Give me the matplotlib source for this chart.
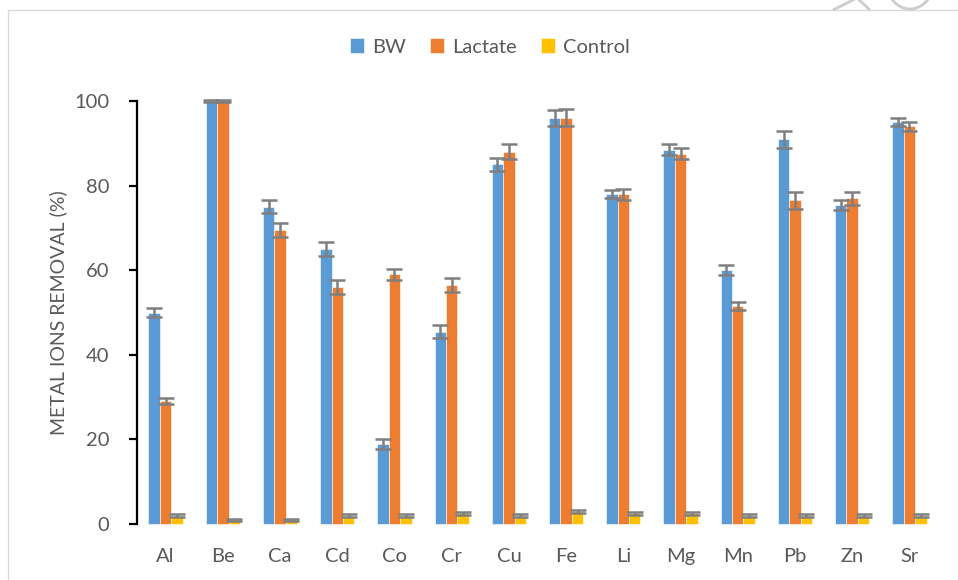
import matplotlib
matplotlib.use("Agg")
import matplotlib.pyplot as plt
import numpy as np
from matplotlib.patches import Rectangle, Arc

metals = ["Al", "Be", "Ca", "Cd", "Co", "Cr", "Cu", "Fe", "Li", "Mg", "Mn", "Pb", "Zn", "Sr"]
bw = [50, 100, 75, 65, 19, 45.5, 85, 96, 78, 88.5, 60, 91, 75.5, 95]
bw_err = [1.0, 0.3, 1.5, 1.6, 1.2, 1.6, 1.6, 1.8, 1.0, 1.3, 1.2, 2.0, 1.2, 1.0]
lactate = [29, 100, 69.5, 56, 59, 56.5, 88, 96, 78, 87.5, 51.5, 76.5, 77, 94]
lac_err = [0.7, 0.3, 1.6, 1.6, 1.3, 1.6, 1.8, 2.0, 1.3, 1.3, 1.0, 2.0, 1.6, 1.0]
control = [2, 1, 1, 2, 2, 2.5, 2, 3, 2.5, 2.5, 2, 2, 2, 2]
ctrl_err = [0.3, 0.2, 0.2, 0.3, 0.3, 0.4, 0.3, 0.4, 0.4, 0.4, 0.3, 0.3, 0.3, 0.3]

plt.rcParams['font.family'] = ['Lato', 'DejaVu Sans']

fig = plt.figure(figsize=(9.58, 5.80), dpi=100)

# background overlay in pixel coordinates (frame + faint watermark fragment)
bg = fig.add_axes([0, 0, 1, 1], zorder=-1)
bg.set_xlim(0, 958)
bg.set_ylim(580, 0)
bg.axis('off')
bg.add_patch(Rectangle((8, 10), 1000, 700, fill=False, edgecolor='#d9d9d9', linewidth=1.0))
bg.plot([833, 857, 870], [10, -2, 10], color='#cccccc', lw=2, solid_capstyle='butt')
bg.add_patch(Arc((910, -22), 50, 62, theta1=0, theta2=180, color='#cccccc', lw=2))

ax = fig.add_axes([137/958, 56/580, (938-137)/958, (524-101)/580])

x = np.arange(len(metals))
w = 0.2
colors = ['#5b9bd5', '#ed7d31', '#ffc000']
labels = ['BW', 'Lactate', 'Control']
series = [(bw, bw_err), (lactate, lac_err), (control, ctrl_err)]
for i, (vals, errs) in enumerate(series):
    ax.bar(x + (i - 1) * w, vals, width=w, color=colors[i], label=labels[i],
           edgecolor='white', linewidth=0.4, clip_on=False,
           yerr=errs, error_kw=dict(ecolor='#7f7f7f', elinewidth=1.8, capsize=5.5,
                                    capthick=1.8, clip_on=False))

ax.set_xlim(-0.5, len(metals) - 0.5)
ax.set_ylim(0, 100)
ax.set_yticks([0, 20, 40, 60, 80, 100])
ax.set_xticks(x)
ax.set_xticklabels(metals)
for s in ['top', 'right', 'bottom']:
    ax.spines[s].set_visible(False)
ax.spines['left'].set_color('black')
ax.spines['left'].set_linewidth(1.6)
ax.tick_params(axis='y', direction='out', length=6, width=1.6, color='black',
               labelsize=14.5, labelcolor='#595959', pad=14)
ax.tick_params(axis='x', length=0, labelsize=14.5, labelcolor='#595959', pad=17)
ax.set_ylabel('METAL IONS REMOVAL (%)', fontsize=14, color='#595959')
ax.yaxis.set_label_coords(-0.087, 0.5)

leg = fig.legend(loc='center', bbox_to_anchor=(490/958, 1 - 47/580), ncol=3, frameon=False,
                 fontsize=14.5, handlelength=0.7, handleheight=0.7, columnspacing=1.2,
                 handletextpad=0.4)
for t in leg.get_texts():
    t.set_color('#595959')

fig.savefig('out.png', dpi=100)
